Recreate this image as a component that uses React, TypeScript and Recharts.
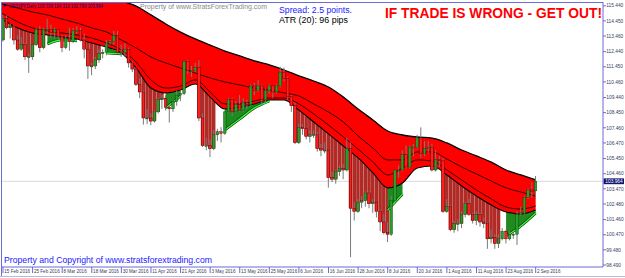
import React from 'react';
import { ComposedChart, Area, Line, Bar, XAxis, YAxis, ReferenceLine } from 'recharts';

// ---- axis labels ----
const tickIdx = [0, 8, 16, 24, 32, 40, 48, 56, 64, 72, 80, 88, 96, 104, 112, 120, 128, 136, 144];
const tickLabels = ['15 Feb 2016', '25 Feb 2016', '8 Mar 2016', '18 Mar 2016', '30 Mar 2016', '11 Apr 2016', '21 Apr 2016', '3 May 2016', '13 May 2016', '25 May 2016', '6 Jun 2016', '16 Jun 2016', '28 Jun 2016', '8 Jul 2016', '20 Jul 2016', '1 Aug 2016', '11 Aug 2016', '23 Aug 2016', '2 Sep 2016'];
const priceTicks = [115.44, 114.45, 113.46, 112.44, 111.45, 110.46, 109.44, 108.45, 107.46, 106.47, 105.45, 104.46, 103.47, 102.48, 101.46, 100.47, 99.48, 98.49];
const lastPrice = 103.964;

// ---- daily candles (USDJPY) ----
const opens = [113.20,114.60,114.00,114.10,113.20,112.60,112.90,112.10,112.10,112.90,
113.90,112.70,113.90,113.90,113.70,113.90,113.40,112.70,113.30,113.10,
113.80,113.80,113.20,112.60,111.50,111.50,111.90,112.30,112.40,113.00,
113.10,113.50,112.40,112.40,112.60,111.70,111.30,110.30,109.80,108.10,
108.10,107.90,108.50,109.30,109.40,108.80,108.70,109.20,109.60,109.70,
111.80,111.20,111.20,111.40,108.10,106.30,106.30,106.10,107.00,107.20,
107.10,108.50,109.30,108.50,109.00,108.60,109.10,109.00,110.20,109.90,
110.20,109.30,109.90,110.20,109.80,110.20,111.10,110.70,109.50,108.90,
106.50,107.50,107.40,106.90,107.00,107.00,106.10,106.00,106.00,104.20,
104.10,104.60,104.80,104.70,106.10,102.20,102.00,102.60,102.70,103.20,
102.50,102.60,102.00,101.30,100.60,100.50,102.70,104.70,104.70,105.70,
104.90,106.20,106.20,106.80,105.80,106.10,106.20,104.70,105.40,105.30,
102.00,102.30,100.80,101.20,101.20,101.80,102.50,101.80,101.40,101.80,
101.30,101.20,100.20,100.30,99.90,100.20,100.70,100.20,100.50,100.50,
101.80,101.90,102.90,103.40,103.339];
const highs = [114.87,114.80,114.30,114.20,113.50,113.40,113.00,112.30,112.90,114.00,
114.10,114.00,114.60,114.20,114.00,113.90,113.50,113.50,114.00,114.00,
114.10,114.00,113.60,112.60,111.70,112.10,112.60,112.60,113.20,113.20,
113.80,113.80,112.90,113.00,112.70,111.80,111.40,110.70,109.90,108.70,
108.40,108.60,109.40,109.60,109.60,108.90,109.30,109.90,109.90,111.80,
111.90,111.50,111.70,111.88,108.40,106.80,106.70,107.30,107.40,107.50,
108.60,109.40,109.40,109.20,109.60,109.40,109.30,110.30,110.40,110.60,
110.30,110.00,110.30,110.20,110.30,111.45,111.40,110.80,109.60,109.10,
107.70,107.70,107.40,107.30,107.30,107.20,106.40,106.50,106.00,104.60,
104.70,105.00,105.10,106.80,106.50,102.60,102.80,103.00,103.30,103.30,
102.80,102.60,102.10,101.80,101.30,103.00,104.70,105.00,106.00,106.30,
106.30,106.40,107.00,107.49,106.60,106.60,106.40,106.00,105.60,105.50,
102.80,102.40,101.40,101.50,102.00,102.60,102.80,101.90,102.00,101.90,
101.60,101.30,100.80,100.50,100.50,100.90,100.80,100.70,100.60,102.00,
102.30,103.00,103.50,103.90,104.31];
const lows = [113.10,113.90,113.30,112.90,112.50,112.50,111.90,111.05,111.90,112.80,
112.40,112.60,113.60,113.30,113.30,113.20,112.40,112.60,112.50,113.00,
113.60,113.10,112.00,110.66,110.90,111.30,111.70,112.00,112.20,112.90,
112.90,112.30,112.10,112.10,111.40,111.10,110.20,109.40,107.67,107.70,
107.63,107.80,108.40,108.70,108.60,107.80,108.50,108.90,109.20,109.60,
111.00,110.80,111.10,107.90,106.20,105.99,105.55,106.00,106.60,106.50,
107.00,108.40,108.20,108.40,108.50,108.50,108.70,108.90,109.60,109.80,
108.90,109.10,109.70,109.40,109.70,110.10,110.50,109.30,108.50,106.40,
106.40,107.00,106.70,106.50,106.80,105.90,105.60,105.80,103.55,103.90,
103.80,104.30,104.10,104.60,99.00,101.40,101.90,102.20,102.30,102.20,
101.90,101.60,100.70,100.50,99.99,100.40,102.60,104.20,104.60,104.80,
104.80,105.60,106.10,105.50,105.60,105.80,104.60,104.60,104.90,101.90,
101.90,100.70,100.60,100.70,100.90,101.60,101.70,101.20,101.10,101.00,
100.90,99.55,99.90,99.55,99.60,100.10,99.90,100.10,100.20,99.80,
101.70,101.80,102.80,102.90,102.79];
const closes = [114.60,114.00,114.10,113.20,112.60,112.90,112.10,112.10,112.90,113.90,
112.70,113.90,113.90,113.70,113.90,113.40,112.70,113.30,113.10,113.80,
113.80,113.20,112.60,111.50,111.50,111.90,112.30,112.40,113.00,113.10,
113.50,112.40,112.40,112.60,111.70,111.30,110.30,109.80,108.10,108.10,
107.90,108.50,109.30,109.40,108.80,108.70,109.20,109.60,109.70,111.80,
111.20,111.20,111.40,108.10,106.30,106.30,106.10,107.00,107.20,107.10,
108.50,109.30,108.50,109.00,108.60,109.10,109.00,110.20,109.90,110.20,
109.30,109.90,110.20,109.80,110.20,111.10,110.70,109.50,108.90,106.50,
107.50,107.40,106.90,107.00,107.00,106.10,106.00,106.00,104.20,104.10,
104.60,104.80,104.70,106.10,102.20,102.00,102.60,102.70,103.20,102.50,
102.60,102.00,101.30,100.60,100.50,102.70,104.70,104.70,105.70,104.90,
106.20,106.20,106.80,105.80,106.10,106.20,104.70,105.40,105.30,102.00,
102.30,100.80,101.20,101.20,101.80,102.50,101.80,101.40,101.80,101.30,
101.20,100.20,100.30,99.90,100.20,100.70,100.20,100.50,100.50,101.80,
101.90,102.90,103.40,103.30,103.964];

// bars where price sits below the ribbon (dark-red shading)
const darkFrom = [0, 22, 34, 50, 78, 112];
const darkTo = [11, 26, 43, 57, 104, 134];

// ---- moving-average ribbon, read every 4 bars ----
const bandIdx = [-4,0,4,8,12,16,20,24,28,32,36,40,44,48,52,56,60,64,68,72,76,80,84,88,92,96,100,104,108,112,116,120,124,128,132,136,140,144];
const bandUpper = [118.75,118.43,118.10,117.78,117.39,116.99,116.67,116.34,116.01,115.75,115.42,114.84,114.25,113.72,113.27,112.87,112.48,112.16,111.83,111.57,111.24,110.85,110.52,110.13,109.47,108.69,107.97,107.25,106.99,106.86,106.79,106.47,106.01,105.62,105.22,104.70,104.38,104.05];
const bandInnerA = [115.80,115.55,115.29,115.03,114.84,114.57,114.31,113.99,113.72,113.20,112.68,112.09,111.70,111.37,111.04,110.72,110.46,110.26,110.06,109.93,109.74,109.54,109.02,108.49,107.84,106.93,106.14,105.36,105.36,105.88,105.88,105.42,104.90,104.44,103.98,103.53,103.26,103.00];
const bandInnerB = [115.30,114.90,114.38,113.99,113.79,113.66,113.53,113.33,113.00,112.55,111.76,110.59,110.06,110.19,110.59,109.80,109.02,109.02,109.21,109.41,109.41,109.02,108.36,107.64,106.86,106.07,105.22,104.38,104.83,105.36,105.29,104.70,104.05,103.39,102.81,102.28,102.15,102.35];
const bandLower = [114.95,114.51,113.99,113.66,113.53,113.40,113.27,113.00,112.74,112.35,111.37,110.06,109.74,109.93,110.32,109.47,108.69,108.82,109.02,109.28,109.28,108.62,107.84,107.06,106.27,105.49,104.51,103.53,103.85,104.83,104.96,104.38,103.66,103.00,102.41,101.96,101.83,102.09];
const fastLine = [null,null,null,null,112.94,113.20,113.14,null,112.35,112.29,null,null,108.76,109.54,null,null,107.32,108.04,108.76,109.21,null,null,null,null,null,null,null,102.09,103.13,null,null,null,null,null,null,100.39,101.04,101.89];

// ---- layout constants ----
const X_MIN = -0.27, X_MAX = 162.2;
const Y_MIN = 98.36, Y_MAX = 115.62;
const FRAME = '#6b6bd6';
const AXIS_TEXT = '#3a3a5c';
const FONT = '"Liberation Sans", Arial, sans-serif';

const inDark = (i: number) => darkFrom.some((s, k) => i >= s && i <= darkTo[k]);

const candleData = opens.map((o, i) => ({
  i, o, h: highs[i], l: lows[i], c: closes[i],
  hl: [lows[i], highs[i]],
  dark: inDark(i) ? [Math.min(o, closes[i]), Y_MAX + 3] : null,
}));

const bandData = bandIdx.map((i, k) => ({ i, u: bandUpper[k], a: bandInnerA[k], b: bandInnerB[k], m: bandLower[k], g: fastLine[k] }));

const greenSegments: any[][] = [];
{
  let cur: any[] = [];
  bandData.forEach((d) => {
    if (d.g != null) cur.push(d);
    else { if (cur.length) greenSegments.push(cur); cur = []; }
  });
  if (cur.length) greenSegments.push(cur);
}

const CandleShape = (p: any) => {
  const { x, y, width, height, payload } = p;
  if (!payload || y == null || height == null) return <g />;
  const top = Math.min(y, y + height);
  const bot = Math.max(y, y + height);
  const range = payload.h - payload.l || 1;
  const k = (bot - top) / range;
  const yO = top + (payload.h - payload.o) * k;
  const yC = top + (payload.h - payload.c) * k;
  const cx = x + width / 2;
  const bTop = Math.min(yO, yC);
  const bH = Math.max(Math.abs(yO - yC), 0.9);
  const up = payload.c >= payload.o;
  return (
    <g>
      <line x1={cx} x2={cx} y1={top} y2={bot} stroke="#7a7a7a" strokeWidth={1} />
      <rect x={x + 0.35} y={bTop} width={width - 0.7} height={bH}
        fill={up ? '#2a9e2a' : '#ff1e1e'} stroke={up ? '#0b3a0b' : '#3a0000'} strokeWidth={0.4} />
    </g>
  );
};

const DarkShape = (p: any) => {
  const { x, y, width, height, payload } = p;
  if (!payload || payload.dark == null || y == null) return <g />;
  const top = Math.min(y, y + height);
  return <rect x={x - 0.1} y={top} width={width + 0.2} height={Math.abs(height)} fill="#b02a26" />;
};

const XTick = (p: any) => {
  const k = tickIdx.indexOf(p.payload.value);
  if (k < 0) return <g />;
  return (
    <text x={p.x + 1.3} y={p.y + 0.3} fontSize={4.6} fill={AXIS_TEXT} fontFamily={FONT}>{tickLabels[k]}</text>
  );
};

const YTick = (p: any) => (
  <text x={p.x + 0.3} y={p.y + 1.7} fontSize={4.8} fill={AXIS_TEXT} fontFamily={FONT}>
    {Number(p.payload.value).toFixed(3)}
  </text>
);

const PriceLabel = (p: any) => {
  const vb = p.viewBox || {};
  const x = (vb.x || 0) + (vb.width || 0);
  const y = vb.y || 0;
  return (
    <g>
      <rect x={x + 0.5} y={y - 2.9} width={20.5} height={5.8} fill="#14146e" />
      <text x={x + 2.3} y={y + 1.8} fontSize={4.8} fill="#ffffff" fontFamily={FONT}>{lastPrice.toFixed(3)}</text>
    </g>
  );
};

export default function App() {
  return (
    <div style={{ position: 'absolute', left: 0, top: 0, width: 625, height: 278, background: '#ffffff', overflow: 'hidden' }}>
      <ComposedChart width={625} height={278} data={candleData} margin={{ top: 3, right: 0, bottom: 0, left: 2 }}>
        <XAxis xAxisId="c" dataKey="i" type="number" domain={[X_MIN, X_MAX]} allowDataOverflow ticks={tickIdx} interval={0}
          height={11} tickSize={6} tickMargin={0} axisLine={{ stroke: FRAME }} tickLine={{ stroke: FRAME }} tick={XTick} />
        <XAxis xAxisId="d" dataKey="i" type="number" domain={[X_MIN, X_MAX]} allowDataOverflow hide />
        <YAxis yAxisId="p" orientation="right" type="number" domain={[Y_MIN, Y_MAX]} allowDataOverflow ticks={priceTicks}
          interval={0} width={22} tickSize={3} tickMargin={0} axisLine={{ stroke: FRAME }} tickLine={{ stroke: FRAME }} tick={YTick} />
        <ReferenceLine xAxisId="c" yAxisId="p" y={lastPrice} stroke="#d8d8d8" strokeWidth={1} label={PriceLabel} zIndex={5} />
        <Bar xAxisId="d" yAxisId="p" dataKey="dark" barSize={4} shape={DarkShape} isAnimationActive={false} zIndex={10} />
        <Area xAxisId="c" yAxisId="p" data={bandData} dataKey={(d: any) => [d.u, Y_MAX + 6]} type="monotone"
          fill="#ffffff" fillOpacity={1} stroke="none" isAnimationActive={false} zIndex={20} />
        <Area xAxisId="c" yAxisId="p" data={bandData} dataKey={(d: any) => [d.m, d.u]} type="monotone"
          fill="#ff0000" fillOpacity={1} stroke="none" isAnimationActive={false} zIndex={30} />
        {greenSegments.map((seg, k) => (
          <Area key={'g' + k} xAxisId="c" yAxisId="p" data={seg} dataKey={(d: any) => [d.g, d.m]} type="monotone"
            fill="#1f8a1f" fillOpacity={1} stroke="none" isAnimationActive={false} zIndex={40} />
        ))}
        <Line xAxisId="c" yAxisId="p" data={bandData} dataKey="u" type="monotone" stroke="#000" strokeWidth={1.3} dot={false} isAnimationActive={false} zIndex={50} />
        <Line xAxisId="c" yAxisId="p" data={bandData} dataKey="a" type="monotone" stroke="#000" strokeWidth={0.8} dot={false} isAnimationActive={false} zIndex={50} />
        <Line xAxisId="c" yAxisId="p" data={bandData} dataKey="b" type="monotone" stroke="#000" strokeWidth={0.8} dot={false} isAnimationActive={false} zIndex={50} />
        <Line xAxisId="c" yAxisId="p" data={bandData} dataKey="m" type="monotone" stroke="#000" strokeWidth={1.1} dot={false} isAnimationActive={false} zIndex={50} />
        {greenSegments.map((seg, k) => (
          <Line key={'gk' + k} xAxisId="c" yAxisId="p" data={seg} dataKey="g" type="monotone" stroke="#0a300a" strokeWidth={2.6} dot={false} isAnimationActive={false} zIndex={55} />
        ))}
        {greenSegments.map((seg, k) => (
          <Line key={'gl' + k} xAxisId="c" yAxisId="p" data={seg} dataKey="g" type="monotone" stroke="#33ff33" strokeWidth={1.3} dot={false} isAnimationActive={false} zIndex={60} />
        ))}
        <Bar xAxisId="c" yAxisId="p" dataKey="hl" barSize={4} shape={CandleShape} isAnimationActive={false} zIndex={70} />
      </ComposedChart>
      <svg width={625} height={278} style={{ position: 'absolute', left: 0, top: 0, pointerEvents: 'none' }}>
        <line x1={1.5} x2={1.5} y1={2} y2={276} stroke={FRAME} strokeWidth={1} />
        <line x1={1} x2={603.5} y1={2.5} y2={2.5} stroke={FRAME} strokeWidth={1} />
        <line x1={0} x2={625} y1={276.5} y2={276.5} stroke="#b8b8e4" strokeWidth={1} />
        <polygon points="3,4.3 6.4,4.3 4.7,7" fill="#000080" />
        <text x={9} y={8.3} fontSize={5.2} fill="#000080" fontFamily={FONT} textLength={94} lengthAdjust="spacingAndGlyphs">
          USDJPY,Daily  103.339 104.310 102.790 103.964
        </text>
        <text x={140} y={9.4} fontSize={7} fill="#8a8a8a" fontFamily={FONT} textLength={127} lengthAdjust="spacingAndGlyphs">
          Property of www.StratsForexTrading.com
        </text>
        <text x={279} y={13.3} fontSize={9.2} fill="#1a1aff" fontFamily={FONT} textLength={73} lengthAdjust="spacingAndGlyphs">
          Spread: 2.5 points.
        </text>
        <text x={279} y={22.6} fontSize={9.2} fill="#000000" fontFamily={FONT} textLength={69} lengthAdjust="spacingAndGlyphs">
          ATR (20): 96 pips
        </text>
        <text x={385} y={18.3} fontSize={14} fontWeight="bold" fill="#ff0000" fontFamily={FONT} textLength={217} lengthAdjust="spacingAndGlyphs">
          IF TRADE IS WRONG - GET OUT!
        </text>
        <text x={4} y={263.3} fontSize={9.2} fill="#1a1aff" fontFamily={FONT} textLength={208} lengthAdjust="spacingAndGlyphs">
          Property and Copyright of www.stratsforextrading.com
        </text>
      </svg>
    </div>
  );
}
